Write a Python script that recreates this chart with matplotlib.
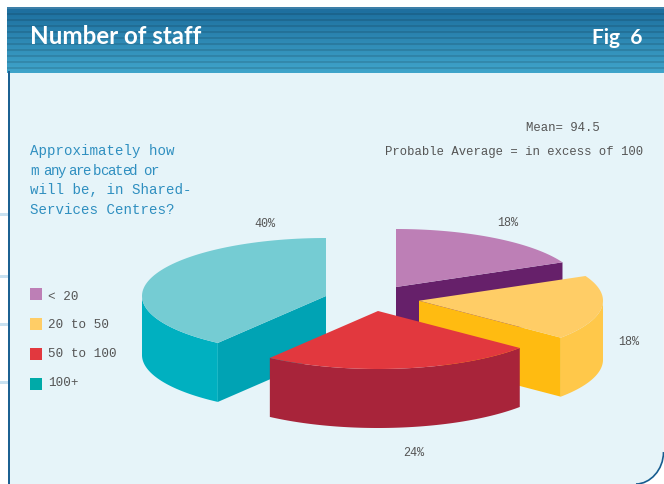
import numpy as np
from matplotlib import pyplot as plt
from matplotlib.patches import Polygon, PathPatch, Rectangle
from matplotlib.path import Path
from matplotlib.colors import to_rgb

# survey results
categories = ["< 20", "20 to 50", "50 to 100", "100+"]
shares = [18, 18, 24, 40]
share_labels = ["18%", "18%", "24%", "40%"]
question = ["Approximately how", None, "will be, in Shared-", "Services Centres?"]
squeezed_words = ["m", "any", "are", "bcated", "or"]
mean_note = "Mean= 94.5"
average_note = "Probable Average = in excess of 100"
title = "Number of staff"
fig_label = "Fig  6"

# pie geometry, in pixels
RX = 184
RY = 58
DEPTH = 59
CENTRE = (370, 300)
OFFSETS = [(26, -13), (49, 0.7), (8, 11), (-44, -4)]
LABEL_POS = [(508, 223), (629, 342), (414, 453), (265, 224)]

TOP_COLS = ["#bd7fb6", "#ffcd66", "#e2383e", "#75ccd3"]
RIM_COLS = ["#66206a", "#ffc84a", "#a8243a", "#00b0c0"]
CUT_COLS = ["#66206a", "#ffbb11", "#a8243a", "#00a3b4"]
LEGEND_COLS = ["#bd7fb6", "#ffcd66", "#e2383e", "#00aaa8"]

PANEL = "#e6f4f9"
BORDER = "#175d90"
TEXT = "#555555"
BLUE_TEXT = "#2f8fc0"


def arc(cx, cy, a0, a1, n=80):
    '''
    Points on the ellipse between two angles, in degrees
    '''
    t = np.radians(np.linspace(a0, a1, n))
    return np.column_stack([cx + RX * np.cos(t), cy - RY * np.sin(t)])


def draw_cut(ax, cx, cy, angle, colour):
    '''
    Flat face running from the pie centre out to the rim
    '''
    end = arc(cx, cy, angle, angle, 1)[0]
    face = [(cx, cy), tuple(end), (end[0], end[1] + DEPTH), (cx, cy + DEPTH)]
    ax.add_patch(Polygon(face, color=colour, lw=0))


def draw_wedge(ax, i, a0, a1):
    '''
    Draw one exploded wedge: cut faces, rim, then top
    '''
    cx = CENTRE[0] + OFFSETS[i][0]
    cy = CENTRE[1] + OFFSETS[i][1]
    if np.cos(np.radians(a0)) < -1e-6:
        draw_cut(ax, cx, cy, a0, CUT_COLS[i])
    if np.cos(np.radians(a1)) > 1e-6:
        draw_cut(ax, cx, cy, a1, CUT_COLS[i])
    # only the front half of the rim can be seen
    rim_a = max(a1, -180)
    rim_b = min(a0, 0)
    if rim_b > rim_a:
        upper = arc(cx, cy, rim_a, rim_b)
        lower = upper + [0, DEPTH]
        ax.add_patch(Polygon(np.vstack([upper, lower[::-1]]), color=RIM_COLS[i], lw=0))
    top = np.vstack([[cx, cy], arc(cx, cy, a0, a1)])
    ax.add_patch(Polygon(top, color=TOP_COLS[i], lw=0))


def draw_background(ax):
    '''
    Page, striped header band and the panel with its rounded corner
    '''
    panel = Path([(8, 72), (663, 72), (663, 452), (663, 470), (650, 484), (636, 484), (8, 484), (8, 72)],
                 [Path.MOVETO, Path.LINETO, Path.LINETO, Path.CURVE4, Path.CURVE4, Path.CURVE4,
                  Path.LINETO, Path.CLOSEPOLY])
    ax.add_patch(PathPatch(panel, fc=PANEL, ec="none"))
    ax.plot([8.5, 8.5], [72, 484], color=BORDER, lw=1.4)
    ax.plot([663.5, 663.5], [72, 452], color="#7fa6c0", lw=0.9)
    corner = Path([(663.5, 452), (663.5, 470), (650, 484), (636, 484)],
                  [Path.MOVETO, Path.CURVE4, Path.CURVE4, Path.CURVE4])
    ax.add_patch(PathPatch(corner, fc="none", ec=BORDER, lw=1.2))

    dark = np.array(to_rgb("#1b6c9c"))
    light = np.array(to_rgb("#3fa4ca"))
    for y in range(7, 73):
        f = (y - 7) / 65
        col = dark + (light - dark) * f
        # darker stripe every six rows
        if (y - 7) % 6 in (0, 1):
            col = col * 0.88
        if y < 11:
            col = np.array(to_rgb("#1f6f9f")) if y > 8 else np.array(to_rgb("#3d7fa8"))
        ax.add_patch(Rectangle((7, y), 657, 1, color=col, lw=0))

    for y in (214, 276, 324.5, 382):
        ax.add_patch(Rectangle((0, y - 1.5), 7.5, 3, color="#c8e2f2", lw=0))


fig = plt.figure(figsize=(6.64, 4.84), dpi=100)
ax = fig.add_axes([0, 0, 1, 1])
ax.set_xlim(0, 664)
ax.set_ylim(484, 0)
ax.axis("off")

draw_background(ax)

# wedges run clockwise from twelve o'clock; the big one goes in first
spans = np.array(shares) * 3.6
stops = 90 - np.cumsum(spans)
starts = stops + spans
for i in [3, 0, 1, 2]:
    draw_wedge(ax, i, starts[i], stops[i])

for label, (x, y) in zip(share_labels, LABEL_POS):
    ax.text(x, y, label, color=TEXT, ha="center", va="center", family="Liberation Mono", fontsize=8.5)

ax.text(563, 128, mean_note, color=TEXT, ha="center", va="center", family="Liberation Mono", fontsize=8.9)
ax.text(643, 152, average_note, color=TEXT, ha="right", va="center", family="Liberation Mono", fontsize=8.8)

for line, y in zip(question, (155, 175, 194, 214)):
    if line is not None:
        ax.text(30, y, line, color=BLUE_TEXT, ha="left", va="baseline", family="Liberation Mono", fontsize=10.2)

# the second line is set tight, so its letters are placed one at a time
for word, x in zip(squeezed_words, (30, 43, 68, 93, 143)):
    for k, letter in enumerate(word):
        ax.text(x + k * 7.3, 175, letter, color=BLUE_TEXT, ha="left", va="baseline",
                family="Liberation Mono", fontsize=10.2)

swatch_y = (294, 324, 354, 384)
legend_y = (296.5, 325.5, 354, 383.5)
for i, name in enumerate(categories):
    ax.add_patch(Rectangle((30, swatch_y[i] - 6), 12, 12, color=LEGEND_COLS[i], lw=0))
    ax.text(48.5, legend_y[i], name, color=TEXT, ha="left", va="center", family="Liberation Mono", fontsize=9.1)

ax.text(30, 36.5, title, color="white", ha="left", va="center", family="Lato", weight="bold", fontsize=17.4)
ax.text(642, 38, fig_label, color="white", ha="right", va="center", family="Lato", weight="bold", fontsize=15)

fig.savefig("out.png", dpi=100, facecolor="white")
